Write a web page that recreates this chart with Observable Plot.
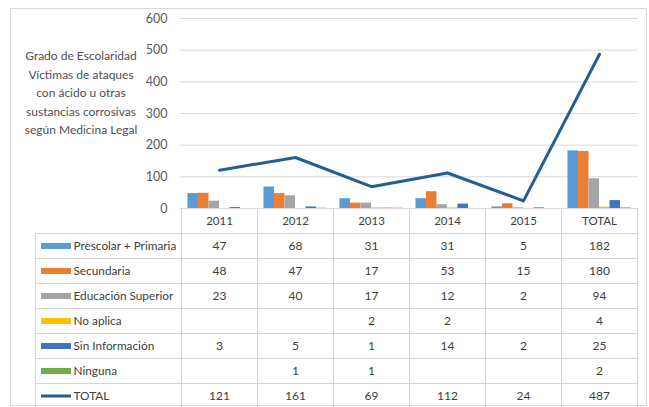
<!DOCTYPE html>
<html><head><meta charset="utf-8">
<script src="https://cdn.jsdelivr.net/npm/d3@7"></script>
<script src="https://cdn.jsdelivr.net/npm/@observablehq/plot@0.6"></script>
<style>
html,body{margin:0;padding:0;background:#fff;overflow:hidden;}
#wrap{position:relative;width:649px;height:407px;font-family:Lato,"Open Sans",sans-serif;}
#box{position:absolute;left:10px;top:8px;width:637px;height:398px;border:1px solid #d9d9d9;box-sizing:border-box;}
#title{position:absolute;left:4px;top:47px;width:154px;text-align:center;font-size:12px;line-height:18.5px;color:#505050;}
#table,#chart{position:absolute;left:0;}
#chart{top:0;}
#table{top:208px;}
</style></head><body>
<div id="wrap">
<div id="box"></div>
<div id="table"></div>
<div id="chart"></div>
<div id="title">Grado de Escolaridad<br>Víctimas de ataques<br>con ácido u otras<br>sustancias corrosivas<br>según Medicina Legal</div>
</div>
<script>
// ---- data ----
const categories = ["2011", "2012", "2013", "2014", "2015", "TOTAL"];
const seriesNames = ["Prescolar + Primaria", "Secundaria", "Educación Superior", "No aplica", "Sin Información", "Ninguna"];
const seriesColors = ["#5B9BD5", "#ED7D31", "#A5A5A5", "#FFC000", "#4472C4", "#70AD47"];
const prescolarPrimaria = [47, 68, 31, 31, 5, 182];
const secundaria = [48, 47, 17, 53, 15, 180];
const educacionSuperior = [23, 40, 17, 12, 2, 94];
const noAplica = [null, null, 2, 2, null, 4];
const sinInformacion = [3, 5, 1, 14, 2, 25];
const ninguna = [null, 1, 1, null, null, 2];
const totalName = "TOTAL";
const totalValues = [121, 161, 69, 112, 24, 487];
const totalColor = "#255E91";
const yTicks = [0, 100, 200, 300, 400, 500, 600];

// ---- layout / style ----
const W = 649;
const FRAME_L = 181, FRAME_R = 637, TABLE_L = 35;
const UNIT = (FRAME_R - FRAME_L) / categories.length;
const LABEL_START = -(FRAME_L - TABLE_L) / UNIT;
const PAD = 0.085;
const BW = (1 - 2 * PAD) / seriesNames.length;
const gridColor = "#d9d9d9";
const borderColor = "#d4d4d4";
const textColor = "#404040";
const font = "Lato, 'Open Sans', sans-serif";

const seriesValues = [prescolarPrimaria, secundaria, educacionSuperior, noAplica, sinInformacion, ninguna];
const bars = [];
seriesValues.forEach((vals, j) => vals.forEach((v, i) => {
  if (v != null) bars.push({i, j, cat: categories[i], series: seriesNames[j], value: v});
}));
const totalPts = totalValues.map((v, i) => ({i, cat: categories[i], value: v}));

const chart = Plot.plot({
  width: W, height: 208,
  marginTop: 18, marginBottom: 0, marginLeft: FRAME_L, marginRight: W - FRAME_R,
  style: {background: "transparent", overflow: "visible", fontFamily: font},
  x: {domain: [0, categories.length], axis: null},
  y: {domain: [0, 600], axis: null},
  color: {domain: seriesNames, range: seriesColors},
  marks: [
    Plot.ruleY(yTicks, {stroke: gridColor, strokeWidth: 1, insetLeft: -1, insetRight: -1}),
    Plot.axisY(yTicks, {tickSize: 0, tickPadding: 14, fontSize: 12.5, fill: "#595959", anchor: "left", label: null}),
    Plot.rectY(bars, {
      x1: d => d.i + PAD + d.j * BW,
      x2: d => d.i + PAD + (d.j + 1) * BW,
      y: "value", fill: "series"
    }),
    Plot.line(totalPts, {x: d => d.i + 0.5, y: "value", stroke: totalColor, strokeWidth: 3, strokeLinejoin: "round"})
  ]
});
document.getElementById("chart").appendChild(chart);

// ---- data table ----
const HEADER = "__header";
const rowNames = [...seriesNames, totalName];
const rowValues = [...seriesValues, totalValues];
const cells = [];
rowNames.forEach((r, k) => categories.forEach((c, i) => cells.push({row: r, i, cat: c, value: rowValues[k][i]})));
const headerCells = categories.map((c, i) => ({row: HEADER, i, cat: c}));

const table = Plot.plot({
  width: W, height: 200,
  marginTop: 0, marginBottom: 0, marginLeft: TABLE_L, marginRight: W - FRAME_R,
  style: {background: "transparent", overflow: "visible", fontFamily: font},
  x: {domain: [LABEL_START, categories.length], axis: null},
  y: {type: "band", domain: [HEADER, ...rowNames], padding: 0, axis: null},
  color: {domain: seriesNames, range: seriesColors},
  marks: [
    Plot.barX(headerCells, {x1: d => d.i, x2: d => d.i + 1, y: "row", fill: "none", stroke: borderColor, shapeRendering: "crispEdges"}),
    Plot.barX(cells, {x1: d => d.i, x2: d => d.i + 1, y: "row", fill: "none", stroke: borderColor, shapeRendering: "crispEdges"}),
    Plot.barX(rowNames, {x1: LABEL_START, x2: 0, y: d => d, fill: "none", stroke: borderColor, shapeRendering: "crispEdges"}),
    Plot.text(headerCells, {x: d => d.i + 0.5, y: "row", text: "cat", fontSize: 11.5, fill: textColor}),
    Plot.text(cells.filter(d => d.value != null), {x: d => d.i + 0.5, y: "row", text: d => String(d.value), fontSize: 12, fill: textColor}),
    Plot.ruleY(seriesNames, {y: d => d, stroke: d => d, strokeWidth: 6, insetLeft: 6, insetRight: (FRAME_R - TABLE_L) - 36}),
    Plot.ruleY([totalName], {y: d => d, stroke: totalColor, strokeWidth: 3, insetLeft: 6, insetRight: (FRAME_R - TABLE_L) - 36}),
    Plot.text(rowNames, {y: d => d, text: d => d, frameAnchor: "left", dx: 38, textAnchor: "start", fontSize: 11.8, fill: textColor})
  ]
});
document.getElementById("table").appendChild(table);
</script>
</body></html>
